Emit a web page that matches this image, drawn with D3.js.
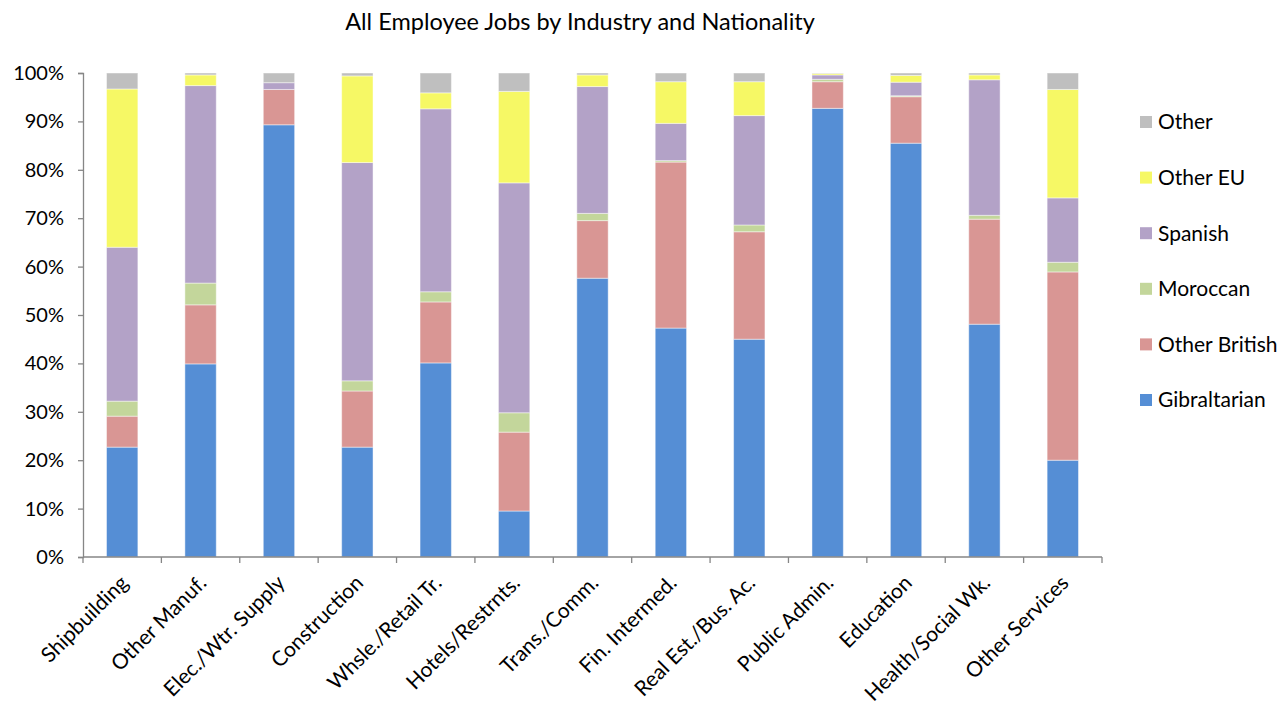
<!DOCTYPE html>
<html>
<head>
<meta charset="utf-8">
<script src="https://cdn.jsdelivr.net/npm/d3@7"></script>
<style>
  body { margin: 0; background: #fff; }
  svg { font-family: Lato, "Liberation Sans", sans-serif; }
</style>
</head>
<body>
<div id="chart"></div>
<script>
// categories and series (percent of jobs)
const industries = ["Shipbuilding", "Other Manuf.", "Elec./Wtr. Supply", "Construction",
  "Whsle./Retail Tr.", "Hotels/Restrnts.", "Trans./Comm.", "Fin. Intermed.",
  "Real Est./Bus. Ac.", "Public Admin.", "Education", "Health/Social Wk.", "Other Services"];

const gibraltarian = [22.7, 39.9, 89.3, 22.7, 40.1, 9.5, 57.6, 47.3, 45.0, 92.7, 85.5, 48.1, 20.0];
const otherBritish = [6.4, 12.2, 7.3, 11.6, 12.6, 16.3, 11.9, 34.3, 22.2, 5.5, 9.6, 21.7, 38.9];
const moroccan     = [3.1, 4.5, 0.0, 2.1, 2.1, 4.0, 1.5, 0.3, 1.4, 0.5, 0.2, 0.8, 2.0];
const spanish      = [31.8, 40.8, 1.4, 45.1, 37.8, 47.5, 26.2, 7.7, 22.6, 0.9, 2.8, 28.0, 13.3];
const otherEU      = [32.7, 2.2, 0.0, 17.9, 3.3, 18.9, 2.4, 8.6, 7.0, 0.3, 1.4, 1.0, 22.4];
const other        = [3.3, 0.4, 2.0, 0.6, 4.1, 3.8, 0.4, 1.8, 1.8, 0.1, 0.5, 0.4, 3.4];

const seriesNames = ["Gibraltarian", "Other British", "Moroccan", "Spanish", "Other EU", "Other"];
const seriesColors = ["#558ed5", "#d99694", "#c3d69b", "#b3a2c7", "#f6f865", "#bfbfbf"];
const yTicks = [0, 0.1, 0.2, 0.3, 0.4, 0.5, 0.6, 0.7, 0.8, 0.9, 1];

const seriesValues = [gibraltarian, otherBritish, moroccan, spanish, otherEU, other];

// build rows for d3.stack, normalised to 1
const rows = industries.map((name, i) => {
  const row = { name: name };
  const total = d3.sum(seriesValues, s => s[i]);
  seriesNames.forEach((s, j) => { row[s] = seriesValues[j][i] / total; });
  return row;
});

const width = 1282, height = 709;
const margin = { top: 73, right: 180, bottom: 152, left: 83 };

const svg = d3.select("#chart").append("svg")
  .attr("width", width)
  .attr("height", height);

const x = d3.scaleBand()
  .domain(industries)
  .range([margin.left, 1102])
  .paddingInner(0.6)
  .paddingOuter(0.3);

const y = d3.scaleLinear()
  .domain([0, 1])
  .range([557, margin.top]);

const color = d3.scaleOrdinal().domain(seriesNames).range(seriesColors);

const stacked = d3.stack().keys(seriesNames)(rows);

// title
svg.append("text")
  .attr("x", 580)
  .attr("y", 30)
  .attr("text-anchor", "middle")
  .attr("font-size", 23.5)
  .attr("fill", "#000")
  .text("All Employee Jobs by Industry and Nationality");

// bars
svg.append("g")
  .selectAll("g")
  .data(stacked)
  .join("g")
  .attr("fill", d => color(d.key))
  .selectAll("rect")
  .data(d => d)
  .join("rect")
  .attr("x", d => x(d.data.name))
  .attr("y", d => y(d[1]))
  .attr("width", x.bandwidth())
  .attr("height", d => Math.max(0, y(d[0]) - y(d[1])))
  .attr("stroke", "rgba(255,255,255,0.45)")
  .attr("stroke-width", 1);

// y axis
const yAxis = svg.append("g")
  .attr("transform", `translate(${margin.left},0)`)
  .call(d3.axisLeft(y).tickValues(yTicks).tickFormat(d3.format(".0%")).tickSize(5).tickPadding(14));
yAxis.select(".domain").attr("stroke", "#868686").attr("stroke-width", 1.3);
yAxis.selectAll(".tick line").attr("stroke", "#868686").attr("stroke-width", 1.3);
yAxis.selectAll("text").attr("font-size", 20).attr("fill", "#000").attr("font-family", "Lato, sans-serif");

// x axis: ticks at band boundaries
const xAxisG = svg.append("g").attr("transform", "translate(0,557)");
xAxisG.append("line")
  .attr("x1", margin.left).attr("x2", 1102)
  .attr("stroke", "#868686").attr("stroke-width", 1.3);
const step = x.step();
xAxisG.selectAll("line.tk")
  .data(d3.range(industries.length + 1))
  .join("line")
  .attr("class", "tk")
  .attr("x1", i => margin.left + i * step)
  .attr("x2", i => margin.left + i * step)
  .attr("y1", 0).attr("y2", 6)
  .attr("stroke", "#868686").attr("stroke-width", 1.3);

xAxisG.selectAll("text")
  .data(industries)
  .join("text")
  .attr("transform", d => `translate(${x(d) + x.bandwidth() / 2 + 2},${22}) rotate(-45)`)
  .attr("text-anchor", "end")
  .attr("dy", "0.35em")
  .attr("font-size", 21)
  .attr("fill", "#000")
  .text(d => d);

// legend (reverse order, Other at top)
const legend = svg.append("g");
const legendItems = seriesNames.slice().reverse();
legend.selectAll("g")
  .data(legendItems)
  .join("g")
  .attr("transform", (d, i) => `translate(1140,${122 + i * 55.6})`)
  .each(function(d) {
    const g = d3.select(this);
    g.append("rect")
      .attr("x", 0).attr("y", -6)
      .attr("width", 12).attr("height", 12)
      .attr("fill", color(d));
    g.append("text")
      .attr("x", 18).attr("y", 0)
      .attr("dy", "0.35em")
      .attr("font-size", 21)
      .attr("fill", "#000")
      .text(d);
  });
</script>
</body>
</html>
